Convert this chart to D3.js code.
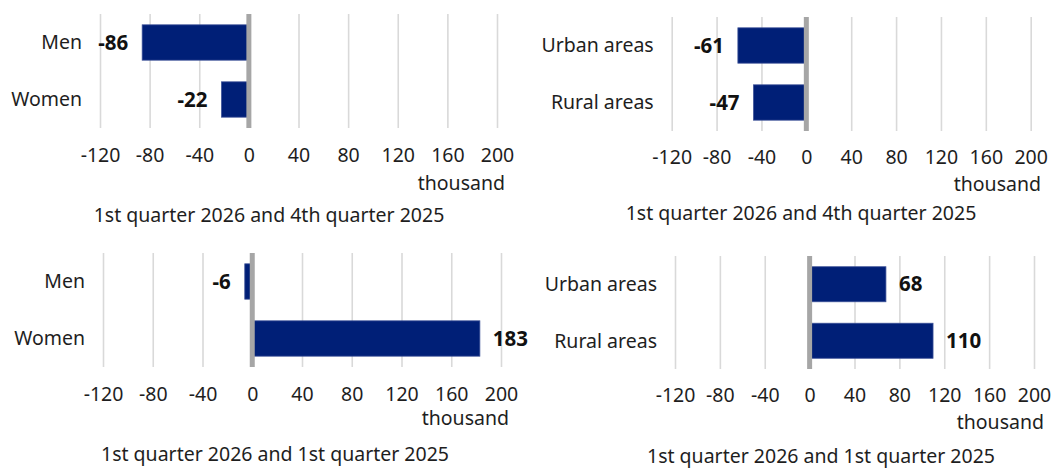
<!DOCTYPE html>
<html>
<head>
<meta charset="utf-8">
<script src="https://cdn.jsdelivr.net/npm/d3@7"></script>
<style>
  html, body { margin: 0; padding: 0; background: #ffffff; }
  svg { display: block; font-family: "Noto Sans", "Open Sans", sans-serif; }
</style>
</head>
<body>
<svg id="chart" width="1060" height="468"></svg>
<script>
// ---- data ----
const genderCategories = ["Men", "Women"];
const areaCategories = ["Urban areas", "Rural areas"];
const quarterOnQuarterGender = [-86, -22];
const quarterOnQuarterArea = [-61, -47];
const yearOnYearGender = [-6, 183];
const yearOnYearArea = [68, 110];
const tickValues = [-120, -80, -40, 0, 40, 80, 120, 160, 200];
const unitLabel = "thousand";
const subtitleQoQ = "1st quarter 2026 and 4th quarter 2025";
const subtitleYoY = "1st quarter 2026 and 1st quarter 2025";

// ---- layout (positions only) ----
const panels = [
  { cats: genderCategories, vals: quarterOnQuarterGender, sub: subtitleQoQ,
    x0: 100, x1: 497, top: 14, bottom: 128, tickY: 155, unitX: 505, unitY: 183, subX: 269, subY: 215 },
  { cats: areaCategories, vals: quarterOnQuarterArea, sub: subtitleQoQ,
    x0: 671.7, x1: 1030.7, top: 17, bottom: 131, tickY: 157, unitX: 1041, unitY: 184, subX: 801, subY: 213 },
  { cats: genderCategories, vals: yearOnYearGender, sub: subtitleYoY,
    x0: 103, x1: 501, top: 253, bottom: 367, tickY: 394, unitX: 509, unitY: 418, subX: 275, subY: 454 },
  { cats: areaCategories, vals: yearOnYearArea, sub: subtitleYoY,
    x0: 675, x1: 1034, top: 256, bottom: 369, tickY: 395, unitX: 1044, unitY: 422, subX: 821, subY: 456 }
];

const barColor = "#001f77";
const textColor = "#1e1e1e";
const fontSize = "19.5px";
const svg = d3.select("#chart");

panels.forEach(p => {
  const g = svg.append("g");
  const x = d3.scaleLinear()
    .domain([tickValues[0], tickValues[tickValues.length - 1]])
    .range([p.x0, p.x1]);
  const y = d3.scaleBand()
    .domain(p.cats)
    .range([p.top, p.bottom])
    .paddingInner(0.38)
    .paddingOuter(0.19);

  // gridlines + tick labels via axis
  const axis = d3.axisBottom(x)
    .tickValues(tickValues)
    .tickFormat(d => d3.format("d")(d).replace("−", "-"))
    .tickSizeInner(-(p.bottom - p.top))
    .tickSizeOuter(0)
    .tickPadding(p.tickY - p.bottom - 7);
  const ax = g.append("g")
    .attr("transform", `translate(0,${p.bottom})`)
    .call(axis);
  ax.select(".domain").remove();
  ax.selectAll(".tick line")
    .attr("stroke", "#d9d9d9")
    .attr("stroke-width", 1.6);
  ax.selectAll(".tick text")
    .attr("fill", textColor)
    .style("font-size", "19.5px")
    .style("font-family", "'Noto Sans', sans-serif");

  const data = p.cats.map((c, i) => ({ cat: c, val: p.vals[i] }));

  // bars
  g.selectAll("rect.bar")
    .data(data)
    .join("rect")
    .attr("class", "bar")
    .attr("x", d => x(Math.min(0, d.val)))
    .attr("width", d => Math.abs(x(d.val) - x(0)))
    .attr("y", d => y(d.cat))
    .attr("height", y.bandwidth())
    .attr("fill", barColor)
    .attr("stroke", "#3a4f96")
    .attr("stroke-width", 0.8);

  // zero line
  g.append("line")
    .attr("x1", x(0)).attr("x2", x(0))
    .attr("y1", p.top).attr("y2", p.bottom)
    .attr("stroke", "#a6a6a6")
    .attr("stroke-width", 5);

  // value labels
  g.selectAll("text.val")
    .data(data)
    .join("text")
    .attr("class", "val")
    .attr("x", d => d.val < 0 ? x(d.val) - 14 : x(d.val) + 13)
    .attr("y", d => y(d.cat) + y.bandwidth() / 2)
    .attr("dy", "0.35em")
    .attr("text-anchor", d => d.val < 0 ? "end" : "start")
    .attr("fill", "#111")
    .style("font-size", "20.5px")
    .style("font-weight", "bold")
    .text(d => (d.val < 0 ? "-" : "") + Math.abs(d.val));

  // category labels
  g.selectAll("text.cat")
    .data(data)
    .join("text")
    .attr("class", "cat")
    .attr("x", p.x0 - 18)
    .attr("y", d => y(d.cat) + y.bandwidth() / 2)
    .attr("dy", "0.35em")
    .attr("text-anchor", "end")
    .attr("fill", textColor)
    .style("font-size", fontSize)
    .text(d => d.cat);

  // unit label
  g.append("text")
    .attr("x", p.unitX)
    .attr("y", p.unitY)
    .attr("dy", "0.35em")
    .attr("text-anchor", "end")
    .attr("fill", textColor)
    .style("font-size", fontSize)
    .text(unitLabel);

  // subtitle
  g.append("text")
    .attr("x", p.subX)
    .attr("y", p.subY)
    .attr("dy", "0.35em")
    .attr("text-anchor", "middle")
    .attr("fill", textColor)
    .style("font-size", fontSize)
    .text(p.sub);
});
</script>
</body>
</html>
